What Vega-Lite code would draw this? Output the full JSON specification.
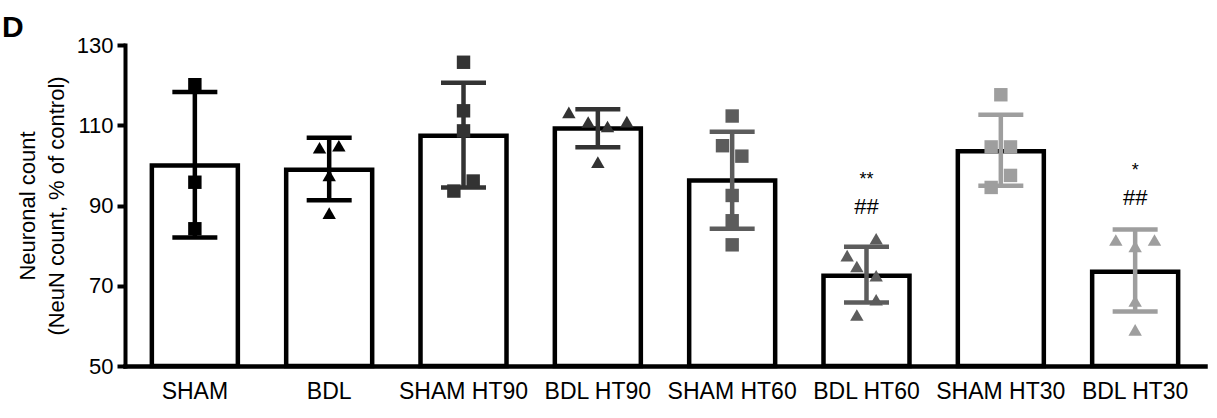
{
  "$schema": "https://vega.github.io/schema/vega-lite/v6.json",
  "autosize": {"type": "none"},
  "padding": {"left": 125, "top": 45, "right": 12, "bottom": 52},
  "width": 1080,
  "height": 321,
  "background": "white",
  "title": {"text": "D", "anchor": "start", "frame": "group", "dx": -123, "dy": 33, "offset": 0, "baseline": "alphabetic", "font": "Liberation Sans", "fontSize": 30, "fontWeight": "bold", "color": "black"},
  "config": {"view": {"stroke": null}, "font": "Liberation Sans"},
  "datasets": {
    "summary": [
      {"group": "SHAM", "model": "SHAM", "mean": 100.0, "lo": 82.0, "hi": 118.3},
      {"group": "BDL", "model": "BDL", "mean": 98.9, "lo": 91.3, "hi": 106.9},
      {"group": "SHAM HT90", "model": "SHAM", "mean": 107.4, "lo": 94.5, "hi": 120.6},
      {"group": "BDL HT90", "model": "BDL", "mean": 109.2, "lo": 104.5, "hi": 114.0},
      {"group": "SHAM HT60", "model": "SHAM", "mean": 96.2, "lo": 84.2, "hi": 108.4},
      {"group": "BDL HT60", "model": "BDL", "mean": 72.5, "lo": 65.8, "hi": 79.7},
      {"group": "SHAM HT30", "model": "SHAM", "mean": 103.5, "lo": 94.9, "hi": 112.6},
      {"group": "BDL HT30", "model": "BDL", "mean": 73.5, "lo": 63.6, "hi": 84.0}
    ],
    "points": [
      {"group": "SHAM", "model": "SHAM", "value": 120.1, "col": 0},
      {"group": "SHAM", "model": "SHAM", "value": 95.8, "col": 0},
      {"group": "SHAM", "model": "SHAM", "value": 84.2, "col": 0},
      {"group": "BDL", "model": "BDL", "value": 104.4, "col": -1},
      {"group": "BDL", "model": "BDL", "value": 104.9, "col": 1},
      {"group": "BDL", "model": "BDL", "value": 97.5, "col": 0},
      {"group": "BDL", "model": "BDL", "value": 88.1, "col": 0},
      {"group": "SHAM HT90", "model": "SHAM", "value": 125.7, "col": 0},
      {"group": "SHAM HT90", "model": "SHAM", "value": 113.6, "col": 0},
      {"group": "SHAM HT90", "model": "SHAM", "value": 108.6, "col": 0},
      {"group": "SHAM HT90", "model": "SHAM", "value": 96.1, "col": 1},
      {"group": "SHAM HT90", "model": "SHAM", "value": 93.6, "col": -1},
      {"group": "BDL HT90", "model": "BDL", "value": 113.2, "col": -3},
      {"group": "BDL HT90", "model": "BDL", "value": 110.8, "col": -1},
      {"group": "BDL HT90", "model": "BDL", "value": 109.7, "col": 1},
      {"group": "BDL HT90", "model": "BDL", "value": 110.9, "col": 3},
      {"group": "BDL HT90", "model": "BDL", "value": 100.8, "col": 0},
      {"group": "SHAM HT60", "model": "SHAM", "value": 112.3, "col": 0},
      {"group": "SHAM HT60", "model": "SHAM", "value": 104.9, "col": -1},
      {"group": "SHAM HT60", "model": "SHAM", "value": 102.3, "col": 1},
      {"group": "SHAM HT60", "model": "SHAM", "value": 92.5, "col": 0},
      {"group": "SHAM HT60", "model": "SHAM", "value": 86.2, "col": 0},
      {"group": "SHAM HT60", "model": "SHAM", "value": 80.2, "col": 0},
      {"group": "BDL HT60", "model": "BDL", "value": 81.7, "col": 1},
      {"group": "BDL HT60", "model": "BDL", "value": 77.5, "col": -2},
      {"group": "BDL HT60", "model": "BDL", "value": 74.8, "col": -1},
      {"group": "BDL HT60", "model": "BDL", "value": 72.5, "col": 1},
      {"group": "BDL HT60", "model": "BDL", "value": 66.5, "col": 1},
      {"group": "BDL HT60", "model": "BDL", "value": 62.7, "col": -1},
      {"group": "SHAM HT30", "model": "SHAM", "value": 117.6, "col": 0},
      {"group": "SHAM HT30", "model": "SHAM", "value": 104.6, "col": -1},
      {"group": "SHAM HT30", "model": "SHAM", "value": 104.6, "col": 1},
      {"group": "SHAM HT30", "model": "SHAM", "value": 97.5, "col": 1},
      {"group": "SHAM HT30", "model": "SHAM", "value": 94.5, "col": -1},
      {"group": "BDL HT30", "model": "BDL", "value": 81.4, "col": -2},
      {"group": "BDL HT30", "model": "BDL", "value": 81.4, "col": 2},
      {"group": "BDL HT30", "model": "BDL", "value": 79.8, "col": 0},
      {"group": "BDL HT30", "model": "BDL", "value": 66.2, "col": 0},
      {"group": "BDL HT30", "model": "BDL", "value": 59.0, "col": 0}
    ],
    "marks": [
      {"group": "BDL HT60", "test": "vs SHAM", "label": "**", "level": 96.3},
      {"group": "BDL HT60", "test": "vs HT", "label": "##", "level": 89.65},
      {"group": "BDL HT30", "test": "vs SHAM", "label": "*", "level": 98.5},
      {"group": "BDL HT30", "test": "vs HT", "label": "##", "level": 91.9}
    ]
  },
  "resolve": {"scale": {"x": "independent"}},
  "layer": [
    {
      "encoding": {
        "x": {
          "field": "group", "type": "nominal", "sort": null,
          "scale": {"type": "band", "domain": ["SHAM", "BDL", "SHAM HT90", "BDL HT90", "SHAM HT60", "BDL HT60", "SHAM HT30", "BDL HT30"], "paddingInner": 0.36, "paddingOuter": 0.2},
          "axis": {"title": null, "labelAngle": 0, "labelFontSize": 23, "labelColor": "black", "ticks": false, "labelPadding": 14, "domainColor": "black", "domainWidth": 4.5, "domainCap": "square"}
        }
      },
      "layer": [
        {
          "data": {"name": "summary"},
          "mark": {"type": "bar", "fill": "white", "stroke": "black", "strokeWidth": 4.5, "width": 86},
          "encoding": {
            "y": {
              "field": "mean", "type": "quantitative",
              "scale": {"domain": [50, 130], "zero": false, "nice": false},
              "axis": {"title": ["Neuronal count", "(NeuN count, % of control)"], "titleFontSize": 22, "titleFontWeight": "normal", "titleColor": "black", "titleLineHeight": 29, "titlePadding": 8, "values": [50, 70, 90, 110, 130], "grid": false, "labelFontSize": 22, "labelColor": "black", "labelPadding": 4, "tickSize": 8, "tickWidth": 4, "tickColor": "black", "domainColor": "black", "domainWidth": 4, "domainCap": "square"}
            },
            "y2": {"datum": 50}
          }
        },
        {
          "data": {"name": "summary"},
          "mark": {"type": "rule", "strokeWidth": 4.5},
          "encoding": {
            "y": {"field": "lo", "type": "quantitative"},
            "y2": {"field": "hi"},
            "color": {"field": "group", "type": "nominal", "legend": null, "scale": {"domain": ["SHAM", "BDL", "SHAM HT90", "BDL HT90", "SHAM HT60", "BDL HT60", "SHAM HT30", "BDL HT30"], "range": ["#000000", "#000000", "#333333", "#333333", "#5c5c5c", "#5c5c5c", "#9e9e9e", "#9e9e9e"]}}
          }
        },
        {
          "data": {"name": "summary"},
          "mark": {"type": "tick", "size": 45, "thickness": 4.5, "opacity": 1},
          "encoding": {
            "y": {"field": "lo", "type": "quantitative"},
            "color": {"field": "group", "type": "nominal", "legend": null}
          }
        },
        {
          "data": {"name": "summary"},
          "mark": {"type": "tick", "size": 45, "thickness": 4.5, "opacity": 1},
          "encoding": {
            "y": {"field": "hi", "type": "quantitative"},
            "color": {"field": "group", "type": "nominal", "legend": null}
          }
        },
        {
          "data": {"name": "marks"},
          "transform": [{"filter": "datum.test === 'vs HT'"}],
          "mark": {"type": "text", "fontSize": 22, "baseline": "middle", "color": "black"},
          "encoding": {
            "y": {"field": "level", "type": "quantitative"},
            "text": {"field": "label"}
          }
        },
        {
          "data": {"name": "marks"},
          "transform": [{"filter": "datum.test === 'vs SHAM'"}],
          "mark": {"type": "text", "fontSize": 18, "baseline": "middle", "color": "black"},
          "encoding": {
            "y": {"field": "level", "type": "quantitative"},
            "text": {"field": "label"}
          }
        }
      ]
    },
    {
      "data": {"name": "points"},
      "mark": {"type": "point", "filled": true, "opacity": 1, "size": 180},
      "encoding": {
        "x": {
          "field": "group", "type": "nominal", "sort": null,
          "scale": {"type": "band", "domain": ["SHAM", "BDL", "SHAM HT90", "BDL HT90", "SHAM HT60", "BDL HT60", "SHAM HT30", "BDL HT30"], "paddingInner": 0.36, "paddingOuter": 0.2},
          "axis": null
        },
        "xOffset": {"field": "col", "type": "quantitative", "scale": {"domain": [-3, 3], "range": [14, 72]}},
        "y": {"field": "value", "type": "quantitative"},
        "shape": {"field": "model", "type": "nominal", "legend": null, "scale": {"domain": ["SHAM", "BDL"], "range": ["square", "triangle-up"]}},
        "color": {"field": "group", "type": "nominal", "legend": null}
      }
    }
  ]
}
